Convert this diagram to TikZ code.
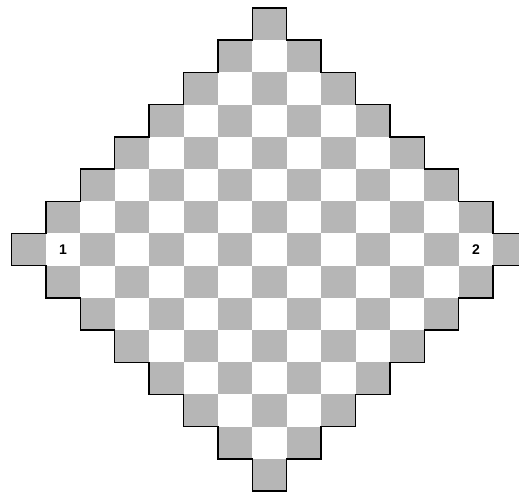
\documentclass[tikz,border=0pt]{standalone}
\usepackage{fontspec}
\setmainfont{Liberation Sans}
\definecolor{cellgray}{RGB}{182,182,182}
\tikzset{
  graycell/.style={fill=cellgray},
  outline/.style={draw=black,line width=1.4pt,line join=miter},
  cellnum/.style={font=\fontsize{14}{14}\selectfont\bfseries,inner sep=0pt}
}
\begin{document}
\begin{tikzpicture}[x=1pt,y=-1pt]
\useasboundingbox (0,0) rectangle (519,492);
\clip (0,0) rectangle (519,492);
\fill[white] (0,0) rectangle (519,492);
\begin{scope}[shift={(269.5,249.5)},x=34.4pt,y=-32.2pt]
  \foreach \r in {-7,...,7}{
    \pgfmathtruncatemacro\n{7-abs(\r)}
    \foreach \c in {-\n,...,\n}{
      \pgfmathtruncatemacro\odd{mod(abs(\c+\r),2)}
      \ifnum\odd=1
        \fill[graycell] (\c-0.5,\r-0.5) rectangle (\c+0.5,\r+0.5);
      \fi
    }
  }
  \draw[outline] (-0.5,-7.5)
    \foreach \i in {0,...,6}{ -- (\i+0.5,\i-7.5) -- (\i+0.5,\i-6.5) }
    -- (7.5,-0.5) -- (7.5,0.5)
    \foreach \i in {0,...,6}{ -- (6.5-\i,0.5+\i) -- (6.5-\i,1.5+\i) }
    -- (-0.5,7.5) -- (-0.5,6.5)
    \foreach \i in {1,...,6}{ -- (-0.5-\i,7.5-\i) -- (-0.5-\i,6.5-\i) }
    -- (-7.5,0.5) -- (-7.5,-0.5)
    \foreach \i in {0,...,6}{ -- (-6.5+\i,-0.5-\i) -- (-6.5+\i,-1.5-\i) }
    -- cycle;
  \node[cellnum] (one) at (-6,0) {1};
  \node[cellnum] (two) at (6,0) {2};
\end{scope}
\end{tikzpicture}
\end{document}
